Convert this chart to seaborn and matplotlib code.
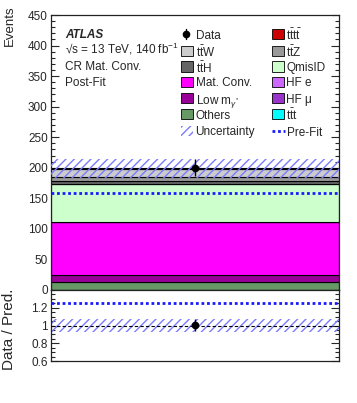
import matplotlib
matplotlib.use("Agg")
import matplotlib.pyplot as plt
from matplotlib.patches import Rectangle
from matplotlib.lines import Line2D
from matplotlib.ticker import MultipleLocator, FixedLocator, FuncFormatter
import numpy as np
import pandas as pd
import seaborn as sns

# post-fit yields in CR Mat. Conv., stacked bottom -> top
samples = ["Others", "Low mgam", "Mat. Conv.", "HF mu", "HF e", "QmisID",
           "ttt", "ttH", "ttZ", "ttW", "tttt"]
yields = [13.6, 11.0, 86.4, 0.2, 0.3, 62.0, 0.1, 5.5, 5.0, 14.7, 0.2]
colors = ["#669966", "#990099", "#ff00ff", "#9933cc", "#cc66ff", "#ccffcc",
          "#00ffff", "#666666", "#999999", "#cccccc", "#cc0000"]

data_count = 200.0
data_err = 14.1
total_unc = 15.0
prefit_total = 159.0

# legend entries (two columns)
leg_left = ["Data", r"$\mathrm{t\bar{t}W}$", r"$\mathrm{t\bar{t}H}$", "Mat. Conv.",
            r"Low m$_{\gamma^{*}}$", "Others", "Uncertainty"]
leg_left_keys = ["data", "ttW", "ttH", "Mat. Conv.", "Low mgam", "Others", "unc"]
leg_right = [r"$\mathrm{t\bar{t}t\bar{t}}$", r"$\mathrm{t\bar{t}Z}$", "QmisID", "HF e",
             "HF μ", r"$\mathrm{t\bar{t}t}$", "Pre-Fit"]
leg_right_keys = ["tttt", "ttZ", "QmisID", "HF e", "HF mu", "ttt", "prefit"]

sns.set_style("ticks")
plt.rcParams['font.family'] = ['Liberation Sans', 'DejaVu Sans']
plt.rcParams['mathtext.fontset'] = 'custom'
plt.rcParams['mathtext.rm'] = 'Liberation Sans'
plt.rcParams['mathtext.it'] = 'Liberation Sans:italic'
plt.rcParams['mathtext.bf'] = 'Liberation Sans:bold'
plt.rcParams['hatch.linewidth'] = 1.0
plt.rcParams['axes.linewidth'] = 0.9

W, H = 357, 403
fig = plt.figure(figsize=(W / 100, H / 100), dpi=100)
left, right = 50.5, 339
ax = fig.add_axes([left / W, 1 - 290 / H, (right - left) / W, (290 - 15) / H])
axr = fig.add_axes([left / W, 1 - 361 / H, (right - left) / W, (361 - 290) / H])

pal = dict(zip(samples, colors))
df = pd.DataFrame({"sample": samples, "x": 0.5, "w": yields})
sns.histplot(data=df, x="x", weights="w", hue="sample", hue_order=samples[::-1],
             multiple="stack", bins=1, binrange=(0, 1), palette=pal, alpha=1,
             edgecolor="black", linewidth=0.8, legend=False, ax=ax)

total = sum(yields)
unc_col = "#7b7bff"
ax.fill_between([0, 1], total - total_unc, total + total_unc, facecolor="none",
                edgecolor=unc_col, hatch="////", linewidth=0, zorder=5)
ax.hlines(prefit_total, 0, 1, colors="#1a1aff", linestyles=(0, (1.0, 1.0)), lw=2.0, zorder=6)
ax.errorbar([0.5], [data_count], yerr=[data_err], fmt="o", color="black", ms=4.5,
            lw=1.0, capsize=0, zorder=7)

ax.set_xlim(0, 1)
ax.set_ylim(0, 450)
ax.yaxis.set_major_locator(MultipleLocator(50))
ax.yaxis.set_minor_locator(MultipleLocator(10))
ax.set_xlabel("")
ax.set_ylabel("")

# ratio panel
r_lo = 1 - total_unc / total
r_hi = 1 + total_unc / total
axr.fill_between([0, 1], r_lo, r_hi, facecolor="none", edgecolor=unc_col,
                 hatch="////", linewidth=0, zorder=2)
axr.hlines(1, 0, 1, colors="black", linestyles=(0, (3, 2)), lw=0.8, zorder=3)
axr.hlines(data_count / prefit_total, 0, 1, colors="#1a1aff", linestyles=(0, (1.0, 1.0)),
           lw=2.0, zorder=4)
axr.errorbar([0.5], [data_count / total], yerr=[data_err / total], fmt="o", color="black",
             ms=4.5, lw=1.0, capsize=0, zorder=5)
axr.set_xlim(0, 1)
axr.set_ylim(0.6, 1.4)
axr.yaxis.set_major_locator(FixedLocator([0.6, 0.8, 1.0, 1.2]))
axr.yaxis.set_minor_locator(MultipleLocator(0.05))
axr.yaxis.set_major_formatter(FuncFormatter(lambda v, p: f"{v:g}"))

for a in (ax, axr):
    a.tick_params(which="both", direction="in", left=True, right=True, top=False,
                  bottom=False, labelbottom=False, labelsize=8.5, pad=2)
    a.tick_params(which="major", length=6, width=0.8)
    a.tick_params(which="minor", length=3, width=0.8)
    for s in a.spines.values():
        s.set_color("#222222")

fig.text(10 / W, 1 - 5 / H, "Events", rotation=90, ha="center", va="top", fontsize=9.5)
fig.text(9 / W, 1 - 329 / H, "Data / Pred.", rotation=90, ha="center", va="center",
         fontsize=11)

# labels
def px(x, y):
    return x / W, 1 - y / H

fig.text(*px(65, 37.5), "ATLAS", fontsize=8.5, fontweight="bold", fontstyle="italic")
fig.text(*px(65, 53.5), "√s = 13 TeV, 140 fb$^{-1}$", fontsize=8.5)
fig.text(*px(65, 70), "CR Mat. Conv.", fontsize=8.5)
fig.text(*px(65, 86.5), "Post-Fit", fontsize=8.5)

# legend
rows = [34.3, 50.7, 66.5, 82, 98, 114.3, 131]
tr = fig.transFigure


def draw_handle(key, x0, yc):
    if key == "data":
        xc = x0 + 5
        fig.add_artist(Line2D([xc / W, xc / W], [1 - (yc - 5) / H, 1 - (yc + 5) / H],
                              color="black", lw=1.0, transform=tr))
        fig.add_artist(Line2D([xc / W], [1 - yc / H], marker="o", ms=4.5, color="black",
                              transform=tr))
    elif key == "unc":
        fig.add_artist(Rectangle(px(x0, yc + 5), 12 / W, 10 / H, facecolor="none",
                                 edgecolor=unc_col, hatch="////", lw=0, transform=tr))
    elif key == "prefit":
        fig.add_artist(Line2D([x0 / W, (x0 + 13) / W], [1 - yc / H] * 2, color="#1a1aff",
                              lw=2.0, ls=(0, (1.0, 1.0)), transform=tr))
    else:
        fig.add_artist(Rectangle(px(x0, yc + 5), 12 / W, 10 / H, facecolor=pal[key],
                                 edgecolor="black", lw=0.6, transform=tr))


for lab, key, yc in zip(leg_left, leg_left_keys, rows):
    draw_handle(key, 181, yc)
    fig.text(*px(195.5, yc), lab, fontsize=8.5, va="center_baseline")
for lab, key, yc in zip(leg_right, leg_right_keys, rows):
    draw_handle(key, 272, yc)
    fig.text(*px(286.5, yc), lab, fontsize=8.5, va="center_baseline")

fig.savefig("out.png", dpi=100)
